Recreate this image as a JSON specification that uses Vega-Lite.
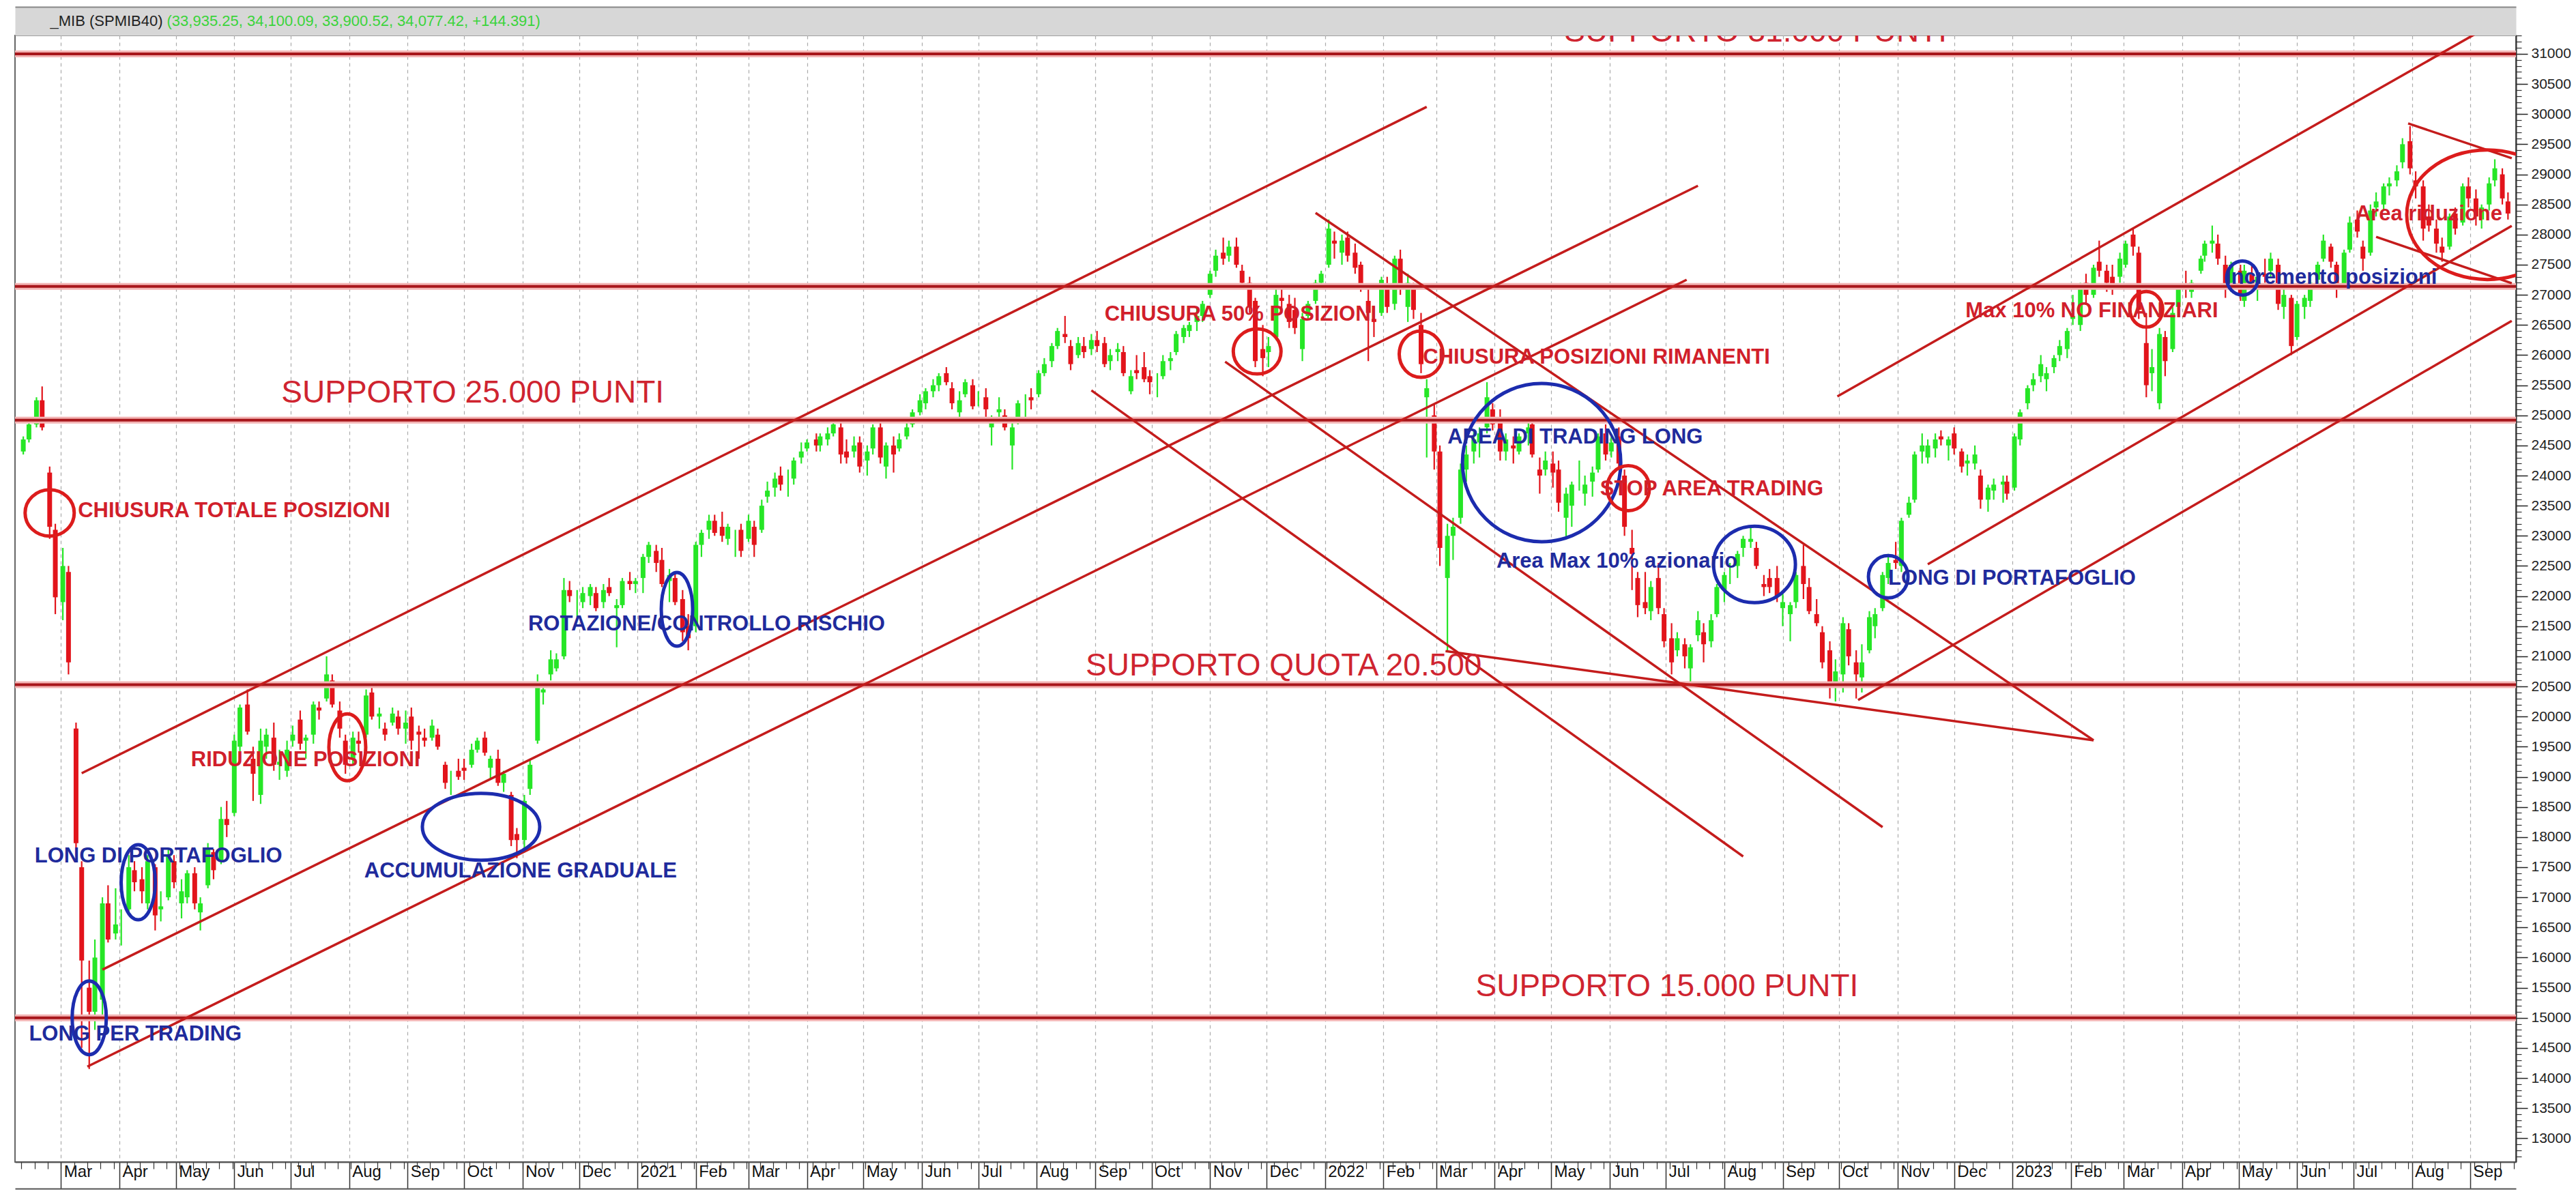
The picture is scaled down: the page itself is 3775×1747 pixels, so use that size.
{
"$schema":"https://vega.github.io/schema/vega-lite/v6.json",
"width":3665,"height":1651,
"autosize":{"type":"none"},
"padding":{"left":22,"top":52,"right":88,"bottom":44},
"background":"white",
"config":{"view":{"stroke":"#666","strokeWidth":2},"font":"Liberation Sans"},
"data":{"values":"d,o,h,l,c\n200210,24400,24650,24350,24600\n200213,24600,24900,24550,24850\n200217,24850,25300,24800,25250\n200220,25250,25480,24750,24800\n200224,24050,24150,22950,23150\n200227,23100,23200,21700,21980\n200302,21900,22800,21600,22500\n200305,22400,22500,20700,20900\n200309,19800,19900,17700,17900\n200312,17500,17600,14500,15950\n200316,15500,15950,14150,15100\n200319,15100,16300,14800,16000\n200323,15300,17000,15000,16900\n200326,16900,17200,16250,16300\n200330,16400,17150,16300,16550\n200402,16500,16800,16200,16500\n200406,16800,17700,16750,17500\n200409,17450,17600,17100,17250\n200413,17300,17500,16900,17100\n200416,16900,17700,16800,17600\n200420,17500,17550,16450,16700\n200423,16800,17100,16600,16850\n200427,17000,17800,16950,17700\n200430,17600,17700,17150,17250\n200504,16900,17300,16650,17100\n200507,17000,17450,16900,17400\n200511,17400,17500,16800,16900\n200514,16750,17000,16450,16900\n200518,17200,17900,17150,17800\n200521,17750,17800,17300,17450\n200525,17600,18500,17550,18300\n200528,18300,18600,18000,18200\n200601,18400,19700,18350,19600\n200604,19500,20200,19350,20150\n200608,20200,20450,19700,19750\n200611,19300,19500,18600,19050\n200615,18700,19800,18550,19600\n200618,19500,19800,19300,19700\n200622,19650,19900,19100,19200\n200625,19200,19450,18950,19250\n200629,19100,19600,19000,19450\n200702,19600,19850,19500,19700\n200706,19950,20100,19450,19550\n200709,19600,19700,19300,19650\n200713,19700,20250,19550,20200\n200716,20150,20250,19950,20100\n200720,20300,21000,20250,20700\n200723,20600,20700,20150,20200\n200727,20100,20250,19650,19800\n200730,19600,19700,19050,19200\n200803,19300,19750,19200,19650\n200806,19600,19750,19400,19550\n200810,19700,20450,19650,20350\n200813,20400,20500,19950,20000\n200817,20000,20150,19800,20050\n200820,19800,19900,19600,19700\n200824,19900,20150,19850,20050\n200827,20000,20100,19700,19800\n200831,19800,20100,19550,19900\n200903,20000,20150,19450,19600\n200907,19750,19850,19300,19700\n200910,19650,19800,19500,19600\n200914,19650,19950,19600,19850\n200917,19700,19800,19450,19500\n200921,19200,19250,18800,18900\n200924,18900,19100,18700,18900\n200928,19100,19300,18950,19000\n201001,19150,19300,18950,19100\n201005,19200,19550,19150,19450\n201008,19450,19650,19400,19600\n201012,19650,19750,19350,19400\n201015,19150,19350,18950,19300\n201019,19300,19450,18850,18900\n201022,18900,19100,18750,19050\n201026,18700,18750,17850,17950\n201029,18050,18150,17650,17950\n201102,17950,18700,17750,18600\n201105,18800,19300,18700,19200\n201109,19600,20700,19550,20500\n201112,20400,20550,20200,20450\n201116,20700,21100,20600,20950\n201119,20800,21050,20750,20950\n201123,21000,22300,20950,22100\n201126,22100,22250,21900,22000\n201130,21900,22100,21650,21900\n201203,21900,22150,21800,22050\n201207,22000,22200,21850,22150\n201210,22050,22150,21750,21800\n201214,21900,22200,21800,22100\n201217,22150,22300,22000,22050\n201221,21800,21950,21150,21850\n201224,21850,22300,21800,22250\n201228,22250,22400,22100,22200\n201231,22200,22300,22050,22250\n210104,22300,22700,22050,22650\n210107,22650,22900,22550,22850\n210111,22750,22850,22400,22550\n210114,22600,22800,22150,22200\n210118,22250,22450,21900,22350\n210121,22300,22400,21850,21900\n210125,21950,22100,21250,21400\n210128,21500,21700,21100,21300\n210201,21500,22900,21400,22850\n210204,22850,23100,22650,23050\n210208,23100,23350,22950,23250\n210211,23250,23350,23000,23050\n210215,23150,23400,22900,23000\n210218,22950,23200,22850,23150\n210222,23000,23100,22650,23000\n210225,23100,23200,22650,22750\n210301,22950,23350,22900,23250\n210304,23150,23250,22650,22850\n210308,23100,23600,23050,23500\n210311,23650,23900,23550,23750\n210315,23800,24050,23650,23950\n210318,24000,24150,23750,23850\n210322,23900,24100,23650,23900\n210325,23950,24300,23850,24250\n210329,24300,24550,24200,24400\n210401,24450,24600,24400,24550\n210406,24600,24700,24400,24500\n210408,24500,24700,24400,24650\n210412,24600,24800,24500,24700\n210415,24700,24900,24650,24850\n210419,24800,24900,24200,24350\n210422,24400,24600,24200,24300\n210426,24400,24650,24300,24500\n210429,24550,24650,24050,24150\n210503,24250,24500,24000,24400\n210506,24450,24850,24350,24800\n210510,24800,24950,24200,24300\n210513,24150,24550,23950,24500\n210517,24500,24650,24050,24350\n210520,24450,24700,24400,24600\n210524,24650,24900,24600,24800\n210527,24850,25100,24800,25050\n210531,25050,25350,25000,25250\n210603,25200,25450,25100,25400\n210607,25400,25600,25300,25500\n210610,25500,25700,25400,25650\n210614,25700,25800,25500,25550\n210617,25450,25550,25100,25200\n210621,25050,25400,24950,25250\n210624,25350,25600,25300,25550\n210628,25500,25600,25100,25150\n210701,25250,25400,25150,25250\n210705,25300,25450,24950,25100\n210708,24800,25000,24500,24950\n210712,25050,25300,24950,25100\n210715,25000,25100,24750,24800\n210719,24500,24900,24100,24800\n210722,24900,25250,24850,25200\n210726,25150,25350,24950,25150\n210729,25300,25450,25100,25250\n210802,25350,25750,25300,25700\n210805,25700,25950,25650,25850\n210809,25900,26200,25800,26150\n210812,26150,26450,26100,26400\n210816,26350,26650,26200,26300\n210819,26150,26250,25750,25850\n210823,26000,26300,25950,26200\n210826,26150,26300,25950,26050\n210830,26100,26350,26000,26250\n210902,26250,26400,26050,26150\n210906,26200,26300,25800,25850\n210909,25900,26100,25750,26000\n210913,26050,26200,25900,26100\n210916,26050,26150,25650,25700\n210920,25400,25750,25350,25650\n210923,25750,26000,25600,25700\n210927,25800,26050,25550,25600\n210930,25650,25750,25350,25550\n211004,25500,25700,25300,25500\n211007,25650,26000,25600,25900\n211011,25900,26050,25750,25950\n211014,26050,26400,26000,26350\n211018,26300,26500,26200,26450\n211021,26400,26550,26300,26500\n211025,26550,26800,26400,26650\n211028,26650,26900,26550,26850\n211101,27000,27400,26950,27350\n211104,27400,27750,27300,27650\n211108,27700,27950,27500,27600\n211111,27650,27900,27550,27800\n211115,27800,27950,27450,27500\n211118,27400,27500,27100,27200\n211122,27200,27300,26700,26800\n211125,26900,26950,25800,25900\n211129,26100,26500,25650,25950\n211202,26050,26300,25800,26150\n211206,26300,27100,26250,27000\n211209,26950,27100,26700,26900\n211213,26850,27000,26450,26550\n211216,26750,26950,26350,26450\n211220,26100,26700,25900,26600\n211223,26650,26900,26600,26850\n211227,26900,27250,26850,27200\n211230,27200,27400,27150,27350\n220103,27500,28250,27450,28100\n220106,27900,28050,27600,27850\n220110,27700,28000,27500,27900\n220113,27950,28050,27550,27650\n220117,27700,27850,27350,27450\n220120,27500,27550,27050,27150\n220124,26900,27150,25900,26700\n220127,26600,26800,26300,26550\n220131,26700,27300,26650,27250\n220203,27100,27300,26700,26800\n220207,26850,27650,26750,27600\n220210,27600,27750,27000,27100\n220214,26800,27350,26550,27200\n220217,27100,27200,26600,26750\n220221,26500,26700,25700,25850\n220224,25300,25600,24300,25450\n220228,25000,25200,24100,24400\n220303,24400,24500,22500,22800\n220307,22300,23200,21100,23000\n220310,23000,23300,22600,23150\n220314,23300,24200,23200,24100\n220317,24100,24500,23900,24350\n220321,24400,24750,24200,24600\n220324,24550,24800,24300,24700\n220328,24800,25550,24700,25300\n220331,25100,25200,24750,24850\n220404,24900,25100,24250,24400\n220407,24400,24700,24250,24600\n220411,24500,24650,24200,24450\n220414,24400,24700,24350,24650\n220419,24700,24900,24500,24800\n220421,24850,24900,24300,24350\n220425,24100,24300,23700,24000\n220428,24100,24400,24000,24250\n220502,24200,24400,23800,24050\n220505,24100,24250,23400,23550\n220509,23300,23800,22950,23700\n220512,23500,23900,23150,23850\n220516,23900,24250,23750,23900\n220519,23700,24000,23500,23850\n220523,23900,24150,23650,24050\n220526,24100,24700,24050,24650\n220530,24700,24850,24250,24350\n220602,24400,24650,24300,24550\n220606,24650,24800,24100,24200\n220609,24000,24100,23000,23150\n220613,22800,23100,22100,22700\n220616,22300,22400,21650,21850\n220620,21900,22400,21700,21800\n220623,21750,22250,21600,22150\n220627,22300,22550,21700,21800\n220630,21700,21800,21150,21250\n220704,21300,21550,20700,20900\n220707,21100,21400,21000,21300\n220711,21200,21300,20800,21000\n220714,20800,21200,20550,21150\n220718,21350,21750,21250,21600\n220721,21400,21550,20900,21200\n220725,21250,21700,21150,21600\n220728,21700,22200,21650,22150\n220801,22100,22400,21900,22350\n220804,22400,22550,22200,22400\n220808,22500,22750,22300,22700\n220811,22800,23000,22650,22950\n220815,22900,23150,22800,22950\n220818,22800,22900,22450,22500\n220822,22200,22350,22000,22150\n220825,22300,22450,22050,22150\n220829,22300,22500,21900,22000\n220901,21800,22100,21500,21900\n220905,21700,21900,21250,21850\n220908,21900,22400,21800,22350\n220912,22500,22850,21950,22200\n220915,22150,22300,21700,21750\n220919,21700,21950,21500,21550\n220922,21400,21500,20800,20900\n220926,21100,21250,20300,20500\n220929,20550,20950,20250,20750\n221003,20700,21650,20400,21550\n221006,21450,21550,20850,21000\n221010,20900,21100,20300,20700\n221013,20650,21200,20400,20900\n221017,21100,21750,21050,21650\n221020,21500,21800,21300,21700\n221024,21800,22400,21750,22350\n221027,22300,22700,22200,22550\n221031,22600,22900,22450,22550\n221103,22500,23300,22400,23250\n221107,23350,23650,23300,23550\n221110,23600,24400,23550,24350\n221114,24400,24700,24200,24500\n221117,24300,24600,24200,24500\n221121,24450,24700,24300,24600\n221124,24650,24750,24500,24600\n221128,24500,24650,24250,24600\n221201,24700,24800,24350,24450\n221205,24400,24450,24050,24150\n221208,24200,24350,24000,24250\n221212,24200,24500,24100,24350\n221215,24000,24100,23450,23600\n221219,23600,23850,23400,23800\n221222,23750,23950,23600,23850\n221227,23850,24000,23550,23900\n221229,23900,24000,23600,23700\n230102,23800,24700,23750,24650\n230105,24600,25100,24500,25050\n230109,25200,25500,25100,25450\n230112,25500,25700,25400,25600\n230116,25650,26000,25550,25850\n230119,25600,25800,25400,25700\n230123,25800,26000,25700,25950\n230126,26000,26250,25900,26150\n230130,26100,26450,25950,26400\n230202,26600,27000,26500,26650\n230206,26500,27200,26400,27100\n230209,27200,27350,26850,27000\n230213,27000,27500,26950,27450\n230216,27550,27900,27300,27400\n230220,27400,27500,27050,27200\n230223,27300,27500,27000,27100\n230227,27300,27700,27200,27600\n230302,27500,27900,27450,27850\n230306,28000,28100,27650,27800\n230309,27700,27800,26600,26750\n230313,26200,26700,25300,25500\n230316,25700,26100,25400,25800\n230320,25200,26450,25100,26350\n230323,26300,26400,25650,25900\n230327,26100,26800,26050,26700\n230330,26800,27150,26750,27100\n230403,27150,27400,26950,27100\n230406,27050,27250,26950,27200\n230411,27400,27650,27350,27600\n230413,27650,27900,27550,27850\n230417,27850,28150,27700,27900\n230420,27850,28000,27500,27600\n230424,27500,27650,26950,27150\n230427,27200,27550,27050,27500\n230502,27400,27500,26900,27000\n230504,26900,27500,26800,27400\n230508,27350,27500,27050,27150\n230511,27200,27400,26900,27300\n230515,27350,27600,27200,27300\n230518,27400,27700,27300,27600\n230522,27500,27600,26750,26850\n230525,26800,27100,26600,27000\n230529,26950,27000,26000,26150\n230601,26300,26900,26250,26850\n230605,26800,27000,26600,26950\n230608,26900,27250,26800,27200\n230612,27250,27550,27150,27500\n230615,27600,28000,27550,27900\n230619,27800,27850,27450,27550\n230622,27500,27550,26950,27100\n230626,27150,27750,27100,27700\n230629,27750,28300,27700,28200\n230703,28250,28400,27950,28050\n230706,27800,27900,27400,27600\n230710,27700,28500,27650,28400\n230713,28450,28700,28300,28550\n230717,28500,28850,28400,28800\n230720,28800,28950,28650,28850\n230724,28900,29150,28800,29050\n230727,29200,29600,29100,29500\n230731,29550,29800,29000,29100\n230803,28900,29050,28600,28800\n230807,28800,28900,27900,28100\n230810,28300,28500,28050,28150\n230814,28100,28250,27700,27850\n230817,27800,27950,27550,27700\n230821,27800,28350,27750,28300\n230824,28350,28450,28000,28100\n230828,28200,28850,28150,28800\n230831,28800,28950,28450,28600\n230904,28600,28750,28150,28300\n230907,28250,28500,28100,28450\n230911,28500,28950,28400,28850\n230914,28900,29250,28800,29100\n230918,29000,29100,28500,28600\n230921,28550,28700,28250,28350","format":{"type":"csv","parse":{"d":"date:'%y%m%d'","o":"number","h":"number","l":"number","c":"number"}}},
"resolve":{"axis":{"x":"independent","y":"independent"}},
"layer":[
{"mark":{"type":"rule","strokeWidth":2.2,"clip":true},
 "encoding":{
  "x":{"field":"d","type":"temporal",
   "scale":{"domain":[{"year":2020,"month":2,"date":7,"hours":10},{"year":2023,"month":9,"date":23,"hours":10}]},
   "axis":{"orient":"bottom","title":null,"tickCount":{"interval":"month","step":1},"grid":true,"gridDash":[5,5],"gridColor":"#aaaaaa","gridWidth":1.2,"domain":true,"domainColor":"#555","domainWidth":2,"ticks":true,"tickSize":39,"tickColor":"#333","tickWidth":1.5,"labels":true,"labelAlign":"left","labelBaseline":"top","labelPadding":-37,"labelOffset":4,"labelFontSize":24,"labelColor":"#111","labelFont":"Liberation Sans","labelOverlap":false,"labelBound":false,"labelFlush":false,"labelExpr":"month(datum.value) == 0 ? timeFormat(datum.value, '%Y') : timeFormat(datum.value, '%b')"}},
  "y":{"field":"l","type":"quantitative","scale":{"domain":[12607,31305],"nice":false,"zero":false},
   "axis":{"orient":"right","title":null,"tickCount":37,"format":"d","grid":false,"domain":true,"domainColor":"#333","domainWidth":2,"tickSize":17,"tickColor":"#222","tickWidth":1.5,"labelPadding":5,"labelFontSize":21,"labelColor":"#222","labelFont":"Liberation Sans","labelOverlap":false,"labelBound":false,"labelFlush":false,"labelBaseline":"middle"}},
  "y2":{"field":"h"},
  "color":{"condition":{"test":"datum.c >= datum.o","value":"#26e626"},"value":"#e2141b"}}},
{"mark":{"type":"bar","width":7,"clip":true},
 "encoding":{
  "x":{"field":"d","type":"temporal","axis":{"orient":"bottom","title":null,"tickCount":{"interval":"week","step":1},"grid":false,"domain":false,"labels":false,"ticks":true,"tickSize":10,"tickColor":"#333","tickWidth":1.2}},
  "y":{"field":"o","type":"quantitative","axis":{"orient":"right","title":null,"tickCount":187,"grid":false,"domain":false,"labels":false,"ticks":true,"tickSize":8,"tickColor":"#333","tickWidth":1.2}},
  "y2":{"field":"c"},
  "color":{"condition":{"test":"datum.c >= datum.o","value":"#26e626"},"value":"#e2141b"}}},
{"data":{"values":[{"p":31000},{"p":27140},{"p":24920},{"p":20530},{"p":15000}]},
 "mark":{"type":"rule","color":"#f3b4b4","strokeWidth":10},
 "encoding":{"y":{"field":"p","type":"quantitative","axis":null}}},
{"data":{"values":[{"p":31000},{"p":27140},{"p":24920},{"p":20530},{"p":15000}]},
 "mark":{"type":"rule","color":"#a8161b","strokeWidth":4},
 "encoding":{"y":{"field":"p","type":"quantitative","axis":null}}},
{"data":{"values":[
  {"d1":"2020-03-12","p1":19060,"d2":"2022-02-24","p2":30120},
  {"d1":"2020-03-23","p1":15800,"d2":"2022-07-18","p2":28810},
  {"d1":"2020-03-15","p1":14190,"d2":"2022-07-12","p2":27250},
  {"d1":"2021-12-27","p1":28360,"d2":"2023-02-13","p2":19606},
  {"d1":"2021-08-30","p1":25414,"d2":"2022-08-11","p2":17678},
  {"d1":"2021-11-09","p1":25890,"d2":"2022-10-24","p2":18165},
  {"d1":"2022-03-06","p1":21087,"d2":"2023-02-13","p2":19606},
  {"d1":"2022-09-30","p1":25313,"d2":"2023-09-23","p2":31674},
  {"d1":"2022-11-17","p1":22528,"d2":"2023-09-23","p2":28145},
  {"d1":"2022-10-11","p1":20274,"d2":"2023-09-23","p2":26568},
  {"d1":"2023-07-30","p1":29845,"d2":"2023-09-23","p2":29267},
  {"d1":"2023-07-13","p1":27962,"d2":"2023-09-23","p2":27192}],
  "format":{"parse":{"d1":"date","d2":"date"}}},
 "mark":{"type":"rule","color":"#c41c1c","strokeWidth":3.5,"clip":true},
 "encoding":{
  "x":{"field":"d1","type":"temporal","axis":{"orient":"bottom","offset":39,"title":null,"domain":true,"domainColor":"#555","domainWidth":2,"ticks":false,"labels":false,"grid":false}},
  "x2":{"field":"d2"},
  "y":{"field":"p1","type":"quantitative","axis":null},
  "y2":{"field":"p2"}}},
{"data":{"values":[
  {"d":"2020-02-24","p":23380,"e":"e1","c":"r"},
  {"d":"2020-03-16","p":15000,"e":"e2","c":"b"},
  {"d":"2020-04-11","p":17250,"e":"e3","c":"b"},
  {"d":"2020-07-31","p":19490,"e":"e4","c":"r"},
  {"d":"2020-10-10","p":18170,"e":"e5","c":"b"},
  {"d":"2021-01-22","p":21780,"e":"e6","c":"b"},
  {"d":"2021-11-26","p":26060,"e":"e7","c":"r"},
  {"d":"2022-02-21","p":26015,"e":"e8","c":"r"},
  {"d":"2022-04-26","p":24215,"e":"e9","c":"b"},
  {"d":"2022-06-11","p":23790,"e":"e10","c":"r"},
  {"d":"2022-08-17","p":22525,"e":"e11","c":"b"},
  {"d":"2022-10-27","p":22320,"e":"e12","c":"b"},
  {"d":"2023-03-13","p":26760,"e":"e13","c":"r"},
  {"d":"2023-05-03","p":27280,"e":"e14","c":"b"},
  {"d":"2023-09-10","p":28330,"e":"e15","c":"r"}]},
 "mark":{"type":"point","filled":false,"strokeWidth":5,"size":4,"opacity":1,"clip":true},
 "encoding":{
  "x":{"field":"d","type":"temporal","axis":{"orient":"top","offset":21,"title":"_MIB (SPMIB40)","titleX":51,"titleY":-1,"titleAlign":"left","titleBaseline":"middle","titleAngle":0,"titleFont":"Liberation Sans","titleFontSize":22,"titleFontWeight":"normal","titleColor":"#222","domain":true,"domainColor":"#d7d7d7","domainWidth":42,"ticks":false,"labels":false,"grid":false}},
  "y":{"field":"p","type":"quantitative","axis":null},
  "shape":{"field":"e","type":"nominal","legend":null,"scale":{"domain":["e1","e2","e3","e4","e5","e6","e7","e8","e9","e10","e11","e12","e13","e14","e15"],
   "range":["M-36,0A36,34,0,1,1,36,0A36,34,0,1,1,-36,0Z","M-25,0A25,54,0,1,1,25,0A25,54,0,1,1,-25,0Z","M-25,0A25,55,0,1,1,25,0A25,55,0,1,1,-25,0Z","M-27,0A27,49,0,1,1,27,0A27,49,0,1,1,-27,0Z","M-86,0A86,49,0,1,1,86,0A86,49,0,1,1,-86,0Z","M-23,0A23,54,0,1,1,23,0A23,54,0,1,1,-23,0Z","M-35,0A35,33,0,1,1,35,0A35,33,0,1,1,-35,0Z","M-32,0A32,34,0,1,1,32,0A32,34,0,1,1,-32,0Z","M-116,0A116,116,0,1,1,116,0A116,116,0,1,1,-116,0Z","M-31,0A31,33,0,1,1,31,0A31,33,0,1,1,-31,0Z","M-60,0A60,56,0,1,1,60,0A60,56,0,1,1,-60,0Z","M-29,0A29,31,0,1,1,29,0A29,31,0,1,1,-29,0Z","M-24,0A24,26,0,1,1,24,0A24,26,0,1,1,-24,0Z","M-23,0A23,25,0,1,1,23,0A23,25,0,1,1,-23,0Z","M-118,0A118,95,0,1,1,118,0A118,95,0,1,1,-118,0Z"]}},
  "stroke":{"field":"c","type":"nominal","legend":null,"scale":{"domain":["r","b"],"range":["#dc1c1c","#1c2cae"]}}}},
{"data":{"values":[
  {"d":"2020-03-10","p":23410,"t":"CHIUSURA TOTALE POSIZIONI","c":"r"},
  {"d":"2020-05-09","p":19275,"t":"RIDUZIONE POSIZIONI","c":"r"},
  {"d":"2020-02-16","p":17680,"t":"LONG DI PORTAFOGLIO","c":"b"},
  {"d":"2020-08-09","p":17430,"t":"ACCUMULAZIONE GRADUALE","c":"b"},
  {"d":"2020-02-13","p":14720,"t":"LONG PER TRADING","c":"b"},
  {"d":"2020-11-04","p":21530,"t":"ROTAZIONE/CONTROLLO RISCHIO","c":"b"},
  {"d":"2021-09-06","p":26670,"t":"CHIUSURA 50% POSIZIONI","c":"r"},
  {"d":"2022-02-22","p":25960,"t":"CHIUSURA POSIZIONI RIMANENTI","c":"r"},
  {"d":"2022-03-07","p":24635,"t":"AREA DI TRADING LONG","c":"b"},
  {"d":"2022-04-02","p":22570,"t":"Area Max 10% azionario","c":"b"},
  {"d":"2022-05-27","p":23775,"t":"STOP AREA TRADING","c":"r"},
  {"d":"2022-10-27","p":22290,"t":"LONG DI PORTAFOGLIO","c":"b"},
  {"d":"2022-12-07","p":26730,"t":"Max 10% NO FINANZIARI","c":"r"},
  {"d":"2023-04-24","p":27280,"t":"Incremento posizioni","c":"b"},
  {"d":"2023-07-02","p":28340,"t":"Area riduzione","c":"r"}]},
 "mark":{"type":"text","align":"left","baseline":"middle","font":"Liberation Sans","fontSize":31,"fontWeight":"bold","clip":true},
 "encoding":{
  "x":{"field":"d","type":"temporal","axis":{"orient":"top","offset":21,"title":"(33,935.25, 34,100.09, 33,900.52, 34,077.42, +144.391)","titleX":222,"titleY":-1,"titleAlign":"left","titleBaseline":"middle","titleAngle":0,"titleFont":"Liberation Sans","titleFontSize":22,"titleFontWeight":"normal","titleColor":"#3ad43a","domain":false,"ticks":false,"labels":false,"grid":false}},
  "y":{"field":"p","type":"quantitative","axis":null},
  "text":{"field":"t"},
  "color":{"field":"c","type":"nominal","legend":null,"scale":{"domain":["r","b"],"range":["#d11f2b","#1f2b9c"]}}}},
{"data":{"values":[
  {"d":"2020-06-26","p":25370,"t":"SUPPORTO 25.000 PUNTI"},
  {"d":"2021-08-27","p":20840,"t":"SUPPORTO QUOTA 20.500"},
  {"d":"2022-03-22","p":15520,"t":"SUPPORTO 15.000 PUNTI"},
  {"d":"2022-05-08","p":31356,"t":"SUPPORTO 31.000 PUNTI"}]},
 "mark":{"type":"text","align":"left","baseline":"middle","font":"Liberation Sans","fontSize":46,"fontWeight":"normal","color":"#cf2430","clip":true},
 "encoding":{
  "x":{"field":"d","type":"temporal","axis":{"orient":"top","offset":42,"title":null,"domain":true,"domainColor":"#888","domainWidth":2,"ticks":false,"labels":false,"grid":false}},
  "y":{"field":"p","type":"quantitative","axis":null},
  "text":{"field":"t"}}}
]
}
